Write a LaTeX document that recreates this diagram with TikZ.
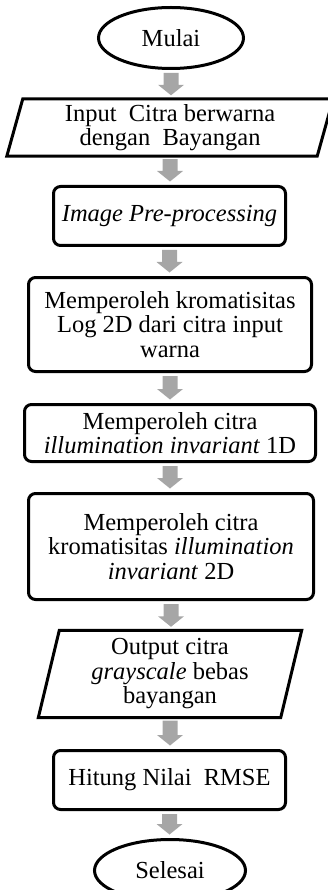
\documentclass[tikz,border=0pt]{standalone}
\usepackage{fontspec}
\setmainfont{Liberation Serif}
\usetikzlibrary{shapes.geometric,calc}
\definecolor{arrowgray}{HTML}{A6A6A6}
\newcommand{\flowarrow}[2]{%
  \fill[arrowgray] let \p1=(#1.south), \p2=(#2.north) in
    (\x1-7.5pt,\y1-3pt) -- (\x1+7.5pt,\y1-3pt) -- (\x1+7.5pt,\y2+14pt) --
    (\x1+13pt,\y2+14pt) -- (\x1,\y2+3.5pt) -- (\x1-13pt,\y2+14pt) --
    (\x1-7.5pt,\y2+14pt) -- cycle;}
\begin{document}
\begin{tikzpicture}[x=1pt,y=-1pt,
  font=\fontsize{24.5}{24.5}\selectfont,
  box/.style={draw, rectangle, line width=3pt, rounded corners=7pt, align=center, inner sep=0pt},
  term/.style={draw, ellipse, line width=3pt, inner sep=0pt},
  io/.style={rectangle, inner sep=0pt, align=center},
  ioline/.style={draw, line width=3pt, line join=miter}]
\useasboundingbox (0,0) rectangle (327,890);
\node[term, minimum width=145pt, minimum height=61pt] (start) at (171,38) {Mulai};
\node[io, minimum width=326pt, minimum height=57pt] (in) at (170,127.5) {Input~ Citra berwarna\\dengan~ Bayangan};
\draw[ioline] ($(in.north west)+(16,0)$) -- (in.north east) -- ($(in.south east)+(-16,0)$) -- (in.south west) -- cycle;
\node[box, minimum width=232pt, minimum height=59pt] (pre) at (169.5,216) {\textit{Image Pre-processing}};
\node[box, minimum width=283pt, minimum height=94pt] (kro) at (170,324.5) {Memperoleh kromatisitas\\Log 2D dari citra input\\warna};
\node[box, minimum width=291pt, minimum height=57pt] (inv1) at (170,433) {Memperoleh citra\\\textit{illumination invariant} 1D};
\node[box, minimum width=285pt, minimum height=106pt] (inv2) at (171,546.5) {Memperoleh citra\\kromatisitas \textit{illumination}\\\textit{invariant} 2D};
\node[io, minimum width=263pt, minimum height=87pt] (out) at (170,674) {Output citra\\\textit{grayscale} bebas\\bayangan};
\draw[ioline] ($(out.north west)+(21,0)$) -- (out.north east) -- ($(out.south east)+(-21,0)$) -- (out.south west) -- cycle;
\node[box, minimum width=232pt, minimum height=59pt] (rmse) at (169.5,780) {Hitung Nilai~ RMSE};
\node[term, minimum width=151pt, minimum height=62pt] (end) at (170,870.5) {Selesai};
\flowarrow{start}{in}
\flowarrow{in}{pre}
\flowarrow{pre}{kro}
\flowarrow{kro}{inv1}
\flowarrow{inv1}{inv2}
\flowarrow{inv2}{out}
\flowarrow{out}{rmse}
\flowarrow{rmse}{end}
\end{tikzpicture}
\end{document}
